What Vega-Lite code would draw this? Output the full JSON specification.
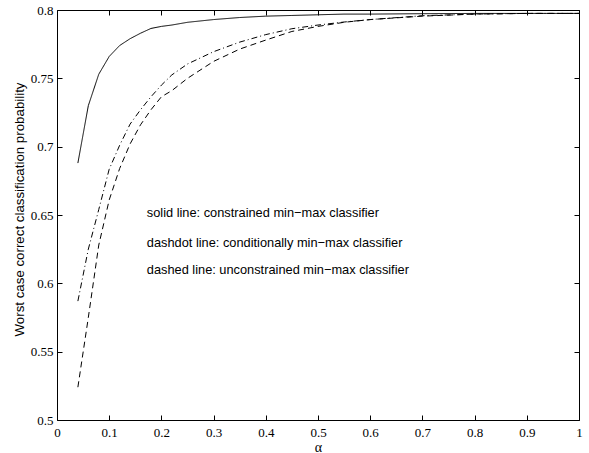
{
  "$schema": "https://vega.github.io/schema/vega-lite/v6.json",
  "autosize": "none",
  "width": 522,
  "height": 410,
  "padding": {"left": 57, "top": 10, "right": 10, "bottom": 33},
  "background": "white",
  "config": {
    "view": {"stroke": "black", "strokeWidth": 1},
    "axis": {
      "grid": false,
      "domain": false,
      "tickColor": "black",
      "tickSize": -5,
      "labelColor": "black",
      "labelFont": "Liberation Serif",
      "labelFontSize": 13,
      "titleFont": "Liberation Sans",
      "titleFontWeight": "normal",
      "titleColor": "black"
    }
  },
  "datasets": {
    "curves": [
      {"alpha": 0.04, "p": 0.688, "series": "solid"},
      {"alpha": 0.06, "p": 0.730, "series": "solid"},
      {"alpha": 0.08, "p": 0.753, "series": "solid"},
      {"alpha": 0.10, "p": 0.766, "series": "solid"},
      {"alpha": 0.12, "p": 0.774, "series": "solid"},
      {"alpha": 0.14, "p": 0.779, "series": "solid"},
      {"alpha": 0.16, "p": 0.783, "series": "solid"},
      {"alpha": 0.18, "p": 0.7865, "series": "solid"},
      {"alpha": 0.20, "p": 0.788, "series": "solid"},
      {"alpha": 0.22, "p": 0.789, "series": "solid"},
      {"alpha": 0.25, "p": 0.791, "series": "solid"},
      {"alpha": 0.30, "p": 0.793, "series": "solid"},
      {"alpha": 0.35, "p": 0.7945, "series": "solid"},
      {"alpha": 0.40, "p": 0.7955, "series": "solid"},
      {"alpha": 0.45, "p": 0.796, "series": "solid"},
      {"alpha": 0.50, "p": 0.7965, "series": "solid"},
      {"alpha": 0.55, "p": 0.797, "series": "solid"},
      {"alpha": 0.60, "p": 0.797, "series": "solid"},
      {"alpha": 0.70, "p": 0.7973, "series": "solid"},
      {"alpha": 0.80, "p": 0.7975, "series": "solid"},
      {"alpha": 0.90, "p": 0.7975, "series": "solid"},
      {"alpha": 1.00, "p": 0.7975, "series": "solid"},
      {"alpha": 0.04, "p": 0.587, "series": "dashdot"},
      {"alpha": 0.06, "p": 0.625, "series": "dashdot"},
      {"alpha": 0.08, "p": 0.654, "series": "dashdot"},
      {"alpha": 0.10, "p": 0.6835, "series": "dashdot"},
      {"alpha": 0.12, "p": 0.701, "series": "dashdot"},
      {"alpha": 0.14, "p": 0.7165, "series": "dashdot"},
      {"alpha": 0.16, "p": 0.727, "series": "dashdot"},
      {"alpha": 0.18, "p": 0.7365, "series": "dashdot"},
      {"alpha": 0.20, "p": 0.745, "series": "dashdot"},
      {"alpha": 0.22, "p": 0.7525, "series": "dashdot"},
      {"alpha": 0.25, "p": 0.7605, "series": "dashdot"},
      {"alpha": 0.30, "p": 0.7695, "series": "dashdot"},
      {"alpha": 0.35, "p": 0.7765, "series": "dashdot"},
      {"alpha": 0.40, "p": 0.782, "series": "dashdot"},
      {"alpha": 0.45, "p": 0.7863, "series": "dashdot"},
      {"alpha": 0.50, "p": 0.789, "series": "dashdot"},
      {"alpha": 0.55, "p": 0.7912, "series": "dashdot"},
      {"alpha": 0.60, "p": 0.793, "series": "dashdot"},
      {"alpha": 0.70, "p": 0.7958, "series": "dashdot"},
      {"alpha": 0.80, "p": 0.797, "series": "dashdot"},
      {"alpha": 0.90, "p": 0.7975, "series": "dashdot"},
      {"alpha": 1.00, "p": 0.7975, "series": "dashdot"},
      {"alpha": 0.04, "p": 0.524, "series": "dashed"},
      {"alpha": 0.06, "p": 0.575, "series": "dashed"},
      {"alpha": 0.08, "p": 0.628, "series": "dashed"},
      {"alpha": 0.10, "p": 0.661, "series": "dashed"},
      {"alpha": 0.12, "p": 0.684, "series": "dashed"},
      {"alpha": 0.14, "p": 0.702, "series": "dashed"},
      {"alpha": 0.16, "p": 0.716, "series": "dashed"},
      {"alpha": 0.18, "p": 0.727, "series": "dashed"},
      {"alpha": 0.20, "p": 0.7365, "series": "dashed"},
      {"alpha": 0.22, "p": 0.741, "series": "dashed"},
      {"alpha": 0.25, "p": 0.750, "series": "dashed"},
      {"alpha": 0.30, "p": 0.7624, "series": "dashed"},
      {"alpha": 0.35, "p": 0.7714, "series": "dashed"},
      {"alpha": 0.40, "p": 0.778, "series": "dashed"},
      {"alpha": 0.45, "p": 0.7843, "series": "dashed"},
      {"alpha": 0.50, "p": 0.788, "series": "dashed"},
      {"alpha": 0.55, "p": 0.791, "series": "dashed"},
      {"alpha": 0.60, "p": 0.793, "series": "dashed"},
      {"alpha": 0.70, "p": 0.7955, "series": "dashed"},
      {"alpha": 0.80, "p": 0.797, "series": "dashed"},
      {"alpha": 0.90, "p": 0.7975, "series": "dashed"},
      {"alpha": 1.00, "p": 0.7975, "series": "dashed"}
    ],
    "notes": [
      {"alpha": 0.172, "p": 0.6513, "label": "solid line: constrained min\u2212max classifier"},
      {"alpha": 0.172, "p": 0.6293, "label": "dashdot line: conditionally min\u2212max classifier"},
      {"alpha": 0.172, "p": 0.6095, "label": "dashed line: unconstrained min\u2212max classifier"}
    ]
  },
  "layer": [
    {
      "data": {"name": "curves"},
      "mark": {"type": "line", "color": "black", "strokeWidth": 1, "clip": true},
      "encoding": {
        "x": {
          "field": "alpha", "type": "quantitative",
          "scale": {"domain": [0, 1], "nice": false, "zero": false},
          "axis": {"orient": "bottom", "title": "\u03b1", "titleFont": "Liberation Serif", "titleFontSize": 14, "titlePadding": 1, "values": [0, 0.1, 0.2, 0.3, 0.4, 0.5, 0.6, 0.7, 0.8, 0.9, 1], "format": ".1~f", "labelPadding": 11, "labelFlush": false}
        },
        "y": {
          "field": "p", "type": "quantitative",
          "scale": {"domain": [0.5, 0.8], "nice": false, "zero": false},
          "axis": {"orient": "left", "title": "Worst case correct classification probability", "titleFontSize": 13.3, "titleX": -38, "titleY": 199, "titleAngle": -90, "titleAlign": "center", "titleBaseline": "middle", "values": [0.5, 0.55, 0.6, 0.65, 0.7, 0.75, 0.8], "format": ".2~f", "labelPadding": 9}
        },
        "detail": {"field": "series"},
        "strokeDash": {
          "field": "series", "type": "nominal",
          "scale": {"domain": ["solid", "dashdot", "dashed"], "range": [[1, 0], [6, 3, 1, 3], [6, 4]]},
          "legend": null
        }
      }
    },
    {
      "data": {"name": "curves"},
      "mark": {"type": "point", "opacity": 0},
      "encoding": {
        "x": {"field": "alpha", "type": "quantitative", "axis": {"orient": "top", "labels": false, "title": null, "values": [0, 0.1, 0.2, 0.3, 0.4, 0.5, 0.6, 0.7, 0.8, 0.9, 1]}},
        "y": {"field": "p", "type": "quantitative", "axis": {"orient": "right", "labels": false, "title": null, "values": [0.5, 0.55, 0.6, 0.65, 0.7, 0.75, 0.8]}}
      }
    },
    {
      "data": {"name": "notes"},
      "mark": {"type": "text", "align": "left", "baseline": "middle", "font": "Liberation Sans", "fontSize": 12.8, "color": "black"},
      "encoding": {
        "x": {"field": "alpha", "type": "quantitative", "axis": null},
        "y": {"field": "p", "type": "quantitative", "axis": null},
        "text": {"field": "label"}
      }
    }
  ],
  "resolve": {"axis": {"x": "independent", "y": "independent"}}
}
